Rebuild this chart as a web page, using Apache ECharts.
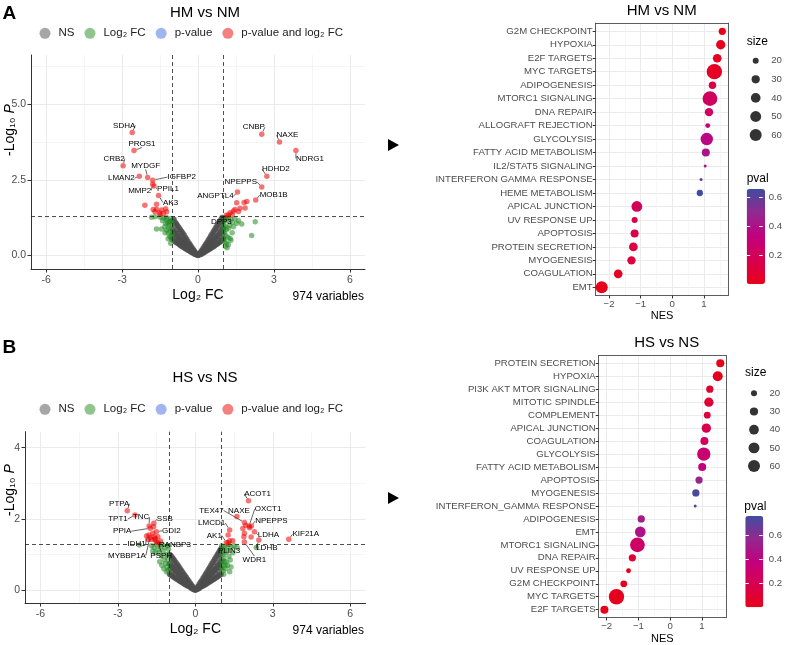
<!DOCTYPE html>
<html><head><meta charset="utf-8">
<script src="https://cdn.jsdelivr.net/npm/echarts@6/dist/echarts.min.js"></script>
<style>html,body{margin:0;padding:0;background:#fff}#c{width:785px;height:645px}</style>
</head><body><div id="c"></div>
<script>
// ---------------- DATA ----------------
// Volcano A: HM vs NM  ([log2FC, -log10 P])
const hmNS = [
[-1.0,0.55],[-1.0,0.85],[-1.0,1.15],[-0.95,0.5],[-0.95,0.8],[-0.95,1.2],[-0.9,0.45],[-0.9,0.75],[-0.9,1.1],
[-0.85,0.42],[-0.85,0.7],[-0.85,1.05],[-0.8,0.4],[-0.8,0.65],[-0.8,0.98],[-0.75,0.37],[-0.75,0.6],[-0.75,0.92],
[-0.7,0.33],[-0.7,0.55],[-0.7,0.86],[-0.65,0.3],[-0.65,0.5],[-0.65,0.8],[-0.6,0.28],[-0.6,0.46],[-0.6,0.74],
[-0.55,0.25],[-0.55,0.42],[-0.55,0.68],[-0.5,0.22],[-0.5,0.38],[-0.5,0.6],[-0.45,0.2],[-0.45,0.34],[-0.45,0.54],
[-0.4,0.17],[-0.4,0.3],[-0.4,0.47],[-0.35,0.15],[-0.35,0.25],[-0.35,0.4],[-0.3,0.12],[-0.3,0.21],[-0.3,0.34],
[-0.25,0.1],[-0.25,0.17],[-0.25,0.28],[-0.2,0.08],[-0.2,0.13],[-0.2,0.22],[-0.15,0.05],[-0.15,0.1],[-0.15,0.16],
[-0.1,0.03],[-0.1,0.06],[-0.1,0.1],[-0.05,0.01],[-0.05,0.03],[0,0.0],[0.02,0.01],
[0.05,0.02],[0.05,0.04],[0.1,0.03],[0.1,0.07],[0.1,0.11],[0.15,0.05],[0.15,0.1],[0.15,0.17],[0.2,0.08],[0.2,0.14],[0.2,0.24],
[0.25,0.1],[0.25,0.18],[0.25,0.3],[0.3,0.13],[0.3,0.22],[0.3,0.37],[0.35,0.15],[0.35,0.27],[0.35,0.43],
[0.4,0.18],[0.4,0.31],[0.4,0.5],[0.45,0.2],[0.45,0.35],[0.45,0.57],[0.5,0.23],[0.5,0.4],[0.5,0.64],
[0.55,0.26],[0.55,0.45],[0.55,0.71],[0.6,0.28],[0.6,0.49],[0.6,0.78],[0.65,0.31],[0.65,0.53],[0.65,0.85],
[0.7,0.34],[0.7,0.58],[0.7,0.92],[0.75,0.37],[0.75,0.62],[0.75,0.98],[0.8,0.4],[0.8,0.67],[0.8,1.05],
[0.85,0.43],[0.85,0.72],[0.85,1.12],[0.9,0.46],[0.9,0.78],[0.9,1.18],[0.95,0.5],[0.95,0.85],[0.95,1.25],[1.0,0.55],[1.0,0.9],[1.0,1.22],
[-0.98,0.68],[-0.92,1.0],[-0.88,0.58],[-0.82,0.86],[-0.78,0.5],[-0.72,0.76],[-0.68,0.44],[-0.62,0.64],[-0.58,0.36],
[-0.52,0.52],[-0.48,0.29],[-0.42,0.4],[-0.38,0.22],[-0.32,0.3],[-0.28,0.16],[-0.22,0.18],[-0.12,0.08],[-0.08,0.04],
[0.08,0.05],[0.12,0.09],[0.22,0.19],[0.28,0.17],[0.32,0.3],[0.38,0.24],[0.42,0.41],[0.48,0.31],[0.52,0.53],
[0.58,0.38],[0.62,0.65],[0.68,0.45],[0.72,0.77],[0.78,0.52],[0.82,0.88],[0.88,0.6],[0.92,1.02],[0.98,0.72],[0.97,1.1]
];
const hmFC = [
[-1.83,1.26],[-1.70,1.28],[-1.50,1.26],[-1.35,1.23],[-1.24,1.2],[-1.64,0.87],[-1.44,0.87],[-1.31,0.95],[-1.17,1.06],
[-1.11,1.12],[-1.24,0.84],[-1.17,0.73],[-1.11,0.62],[-1.04,0.53],[-1.08,0.40],[-1.13,1.0],[-1.05,1.15],[-1.2,1.1],
[-1.28,1.05],[-1.15,0.9],[-1.05,0.9],[-1.02,0.7],[-1.1,0.78],[-1.25,1.25],[-1.4,1.15],[-1.08,1.22],[-1.02,1.05],
[-1.3,0.75],[-1.18,0.55],[-1.06,0.6],
[1.05,1.25],[1.1,1.2],[1.15,1.15],[1.2,1.25],[1.3,1.2],[1.45,1.22],[1.02,1.0],[1.08,0.95],[1.12,0.85],[1.2,0.9],
[1.25,1.0],[1.35,1.1],[1.05,0.75],[1.1,0.65],[1.18,0.6],[1.02,0.55],[1.06,0.45],[1.12,0.4],[1.2,0.35],[1.08,0.3],
[1.15,0.25],[1.3,0.5],[1.35,0.75],[1.6,1.15],[1.27,0.56],[1.4,0.95],[1.53,1.06],[1.73,1.04],[2.12,0.66],[2.26,1.11],
[1.0,0.85],[1.03,1.15]
];
const hmBoth = [
[-2.10,1.66],[-1.64,1.69],[-1.77,1.52],[-1.64,1.53],[-1.44,1.50],[-1.28,1.54],[-1.52,1.41],[-1.37,1.39],[-1.24,1.44],
[-1.70,1.44],[-1.50,1.35],
[1.53,1.74],[1.93,1.78],[1.82,1.75],[1.46,1.52],[1.27,1.41],[1.40,1.47],[1.66,1.56],[1.86,1.57],[1.60,1.45],[1.35,1.36],[1.12,1.33]
];
const hmLabelGenes = ['SDHA','PROS1','CRB2','MYDGF','LMAN2','IGFBP2','MMP2','PPIL1','AK3','CNBP','NAXE','NDRG1','HDHD2','NPEPPS','ANGPTL4','MOB1B','DPP3'];
const hmLabelX = [-2.60,-2.53,-2.96,-1.99,-2.32,-1.79,-1.79,-1.74,-1.56,2.52,3.22,3.87,2.72,2.52,1.56,2.28,1.20];
const hmLabelY = [4.07,3.47,2.97,2.58,2.62,2.49,2.35,2.30,1.98,4.01,3.75,3.47,2.62,2.26,2.10,1.83,1.34];

// Volcano B: HS vs NS
const hsNS = [
[-1.0,0.45],[-1.0,0.75],[-1.0,1.0],[-0.95,0.42],[-0.95,0.7],[-0.95,0.98],[-0.9,0.4],[-0.9,0.66],[-0.9,0.93],
[-0.85,0.37],[-0.85,0.62],[-0.85,0.88],[-0.8,0.35],[-0.8,0.58],[-0.8,0.83],[-0.75,0.32],[-0.75,0.54],[-0.75,0.78],
[-0.7,0.3],[-0.7,0.5],[-0.7,0.73],[-0.65,0.28],[-0.65,0.46],[-0.65,0.68],[-0.6,0.25],[-0.6,0.42],[-0.6,0.62],
[-0.55,0.23],[-0.55,0.38],[-0.55,0.57],[-0.5,0.21],[-0.5,0.34],[-0.5,0.52],[-0.45,0.18],[-0.45,0.3],[-0.45,0.46],
[-0.4,0.16],[-0.4,0.27],[-0.4,0.41],[-0.35,0.14],[-0.35,0.23],[-0.35,0.36],[-0.3,0.12],[-0.3,0.2],[-0.3,0.31],
[-0.25,0.1],[-0.25,0.16],[-0.25,0.26],[-0.2,0.08],[-0.2,0.13],[-0.2,0.2],[-0.15,0.05],[-0.15,0.09],[-0.15,0.15],
[-0.1,0.03],[-0.1,0.06],[-0.1,0.1],[-0.05,0.01],[-0.05,0.03],[0,0.0],[0.02,0.01],
[0.05,0.02],[0.05,0.04],[0.1,0.03],[0.1,0.07],[0.1,0.11],[0.15,0.05],[0.15,0.1],[0.15,0.17],[0.2,0.08],[0.2,0.14],[0.2,0.23],
[0.25,0.1],[0.25,0.17],[0.25,0.28],[0.3,0.12],[0.3,0.21],[0.3,0.34],[0.35,0.14],[0.35,0.25],[0.35,0.4],
[0.4,0.16],[0.4,0.29],[0.4,0.46],[0.45,0.18],[0.45,0.33],[0.45,0.52],[0.5,0.21],[0.5,0.37],[0.5,0.58],
[0.55,0.23],[0.55,0.41],[0.55,0.64],[0.6,0.25],[0.6,0.45],[0.6,0.7],[0.65,0.28],[0.65,0.49],[0.65,0.76],
[0.7,0.3],[0.7,0.53],[0.7,0.82],[0.75,0.32],[0.75,0.57],[0.75,0.88],[0.8,0.35],[0.8,0.61],[0.8,0.94],
[0.85,0.37],[0.85,0.65],[0.85,1.0],[0.9,0.4],[0.9,0.7],[0.9,1.06],[0.95,0.42],[0.95,0.74],[0.95,1.12],[1.0,0.45],[1.0,0.8],[1.0,1.18],
[-0.98,0.6],[-0.92,0.86],[-0.88,0.52],[-0.82,0.75],[-0.78,0.45],[-0.72,0.66],[-0.68,0.38],[-0.62,0.56],[-0.58,0.32],
[-0.52,0.45],[-0.48,0.26],[-0.42,0.36],[-0.38,0.2],[-0.32,0.27],[-0.28,0.15],[-0.22,0.17],[-0.12,0.08],[-0.08,0.04],
[0.08,0.05],[0.12,0.09],[0.22,0.18],[0.28,0.15],[0.32,0.28],[0.38,0.22],[0.42,0.38],[0.48,0.28],[0.52,0.48],
[0.58,0.34],[0.62,0.58],[0.68,0.41],[0.72,0.68],[0.78,0.47],[0.82,0.78],[0.88,0.53],[0.92,0.9],[0.98,0.62],[0.97,1.0]
];
const hsFC = [
[-2.17,1.27],[-1.7,1.25],[-1.6,1.2],[-1.5,1.28],[-1.45,1.15],[-1.4,1.05],[-1.35,1.22],[-1.3,0.95],[-1.25,1.1],[-1.2,0.85],
[-1.18,1.2],[-1.15,0.75],[-1.12,1.0],[-1.1,0.65],[-1.08,0.9],[-1.05,0.55],[-1.04,1.15],[-1.02,0.75],[-1.12,0.52],[-1.22,0.6],
[-1.3,0.7],[-1.55,1.05],[-1.65,1.1],[-1.38,0.8],[-1.06,1.25],[-1.28,1.28],
[2.36,1.2],[1.02,1.25],[1.05,1.1],[1.08,1.0],[1.1,0.9],[1.12,0.8],[1.15,0.7],[1.18,0.6],[1.04,0.85],[1.06,0.7],[1.08,0.55],
[1.2,1.2],[1.25,1.1],[1.3,0.95],[1.35,0.85],[1.2,0.8],[1.25,0.7],[1.15,1.05],[1.4,1.2],[1.45,1.05],[1.3,1.28],[1.02,0.6],
[1.1,0.45],[1.33,0.52],[1.5,1.25],[1.62,1.2],[1.38,0.65],[1.12,1.22]
];
const hsBoth = [
[-1.65,1.6],[-1.8,1.55],[-1.6,1.5],[-1.45,1.5],[-1.7,1.42],[-1.83,1.42],[-1.35,1.38],[-1.52,1.35],[-1.62,1.78],[-1.55,1.45],
[1.84,1.73],[1.90,1.60],[1.88,1.50],[2.16,1.49],[1.45,1.39],[1.33,1.39],[1.27,1.55],[2.1,1.75],[1.95,1.82]
];
const hsLabelGenes = ['PTPA','TPT1','TNC','SSB','PPIA','GDI2','IDH1','RANBP3','MYBBP1A','PSPH','ACOT1','TEX47','NAXE','OXCT1','NPEPPS','LMCD1','AK1','LDHA','KIF21A','LDHB','PLIN3','WDR1'];
const hsLabelX = [-2.64,-2.34,-1.79,-1.61,-1.75,-1.51,-1.89,-1.57,-1.76,-1.44,2.06,1.90,1.61,2.08,2.17,1.33,1.20,2.29,3.62,2.46,1.27,1.90];
const hsLabelY = [2.23,2.11,1.80,1.88,1.74,1.64,1.52,1.42,1.48,1.33,2.51,1.90,2.07,1.80,1.80,1.69,1.34,1.64,1.43,1.41,1.33,1.35];

const volcanoLegend = ['NS','Log₂ FC','p-value','p-value and log₂ FC'];
const fcCutoff = 1;
const pCutoff = 0.05;
const variablesText = '974 variables';

// GSEA dot plots
const hmPathways = ['G2M CHECKPOINT','HYPOXIA','E2F TARGETS','MYC TARGETS','ADIPOGENESIS','MTORC1 SIGNALING','DNA REPAIR','ALLOGRAFT REJECTION','GLYCOLYSIS','FATTY ACID METABOLISM','IL2/STAT5 SIGNALING','INTERFERON GAMMA RESPONSE','HEME METABOLISM','APICAL JUNCTION','UV RESPONSE UP','APOPTOSIS','PROTEIN SECRETION','MYOGENESIS','COAGULATION','EMT'];
const hmNES  = [1.58,1.53,1.42,1.33,1.27,1.19,1.16,1.12,1.09,1.06,1.04,0.91,0.87,-1.12,-1.19,-1.19,-1.23,-1.29,-1.71,-2.23];
const hmSize = [25,37,33,99,26,91,31,17,65,29,15,15,21,48,20,29,33,31,33,60];
const hmPval = [0.00,0.01,0.03,0.03,0.12,0.22,0.23,0.30,0.36,0.40,0.42,0.55,0.655,0.20,0.15,0.15,0.13,0.12,0.03,0.00];

const hsPathways = ['PROTEIN SECRETION','HYPOXIA','PI3K AKT MTOR SIGNALING','MITOTIC SPINDLE','COMPLEMENT','APICAL JUNCTION','COAGULATION','GLYCOLYSIS','FATTY ACID METABOLISM','APOPTOSIS','MYOGENESIS','INTERFERON_GAMMA RESPONSE','ADIPOGENESIS','EMT','MTORC1 SIGNALING','DNA REPAIR','UV RESPONSE UP','G2M CHECKPOINT','MYC TARGETS','E2F TARGETS'];
const hsNES  = [1.58,1.50,1.25,1.22,1.17,1.14,1.08,1.06,1.01,0.91,0.81,0.79,-0.91,-0.94,-1.03,-1.19,-1.31,-1.46,-1.69,-2.07];
const hsSize = [29,42,25,37,23,37,29,74,29,25,25,15,25,48,91,25,17,23,99,29];
const hsPval = [0.00,0.02,0.08,0.10,0.13,0.18,0.25,0.32,0.37,0.55,0.74,0.757,0.50,0.47,0.28,0.10,0.03,0.02,0.01,0.00];

const sizeKey = [20,30,40,50,60];
const pvalTicks = [0.2,0.4,0.6];

// --------------- STYLE / LAYOUT ---------------
const FONT = "'Liberation Sans', Arial, Helvetica, sans-serif";
const sizeFn = v => 3 + 1.342 * Math.sqrt(Math.max(v - 15, 0));
const pvalColors = ['#E8001A','#D8004E','#C2007E','#93288F','#3F4DA0'];

const hmNudge = [[-8,-7],[8,-7],[-9,-7],[-2,-12],[-18,2],[29,-3],[-13,6],[14,3],[12,7],[-8,-7],[8,-7],[14,8],[9,-7],[-21,-5],[-22,4],[18,-5],[-7,7]];
const hsNudge = [[-8,-7],[-17,4],[-8,-9],[11,-4],[-28,3],[15,-1],[-10,8],[20,5],[-23,18],[3,13],[9,-7],[-33,-12],[2,-6],[19,-17],[20,-5],[-18,-7],[-12,-7],[14,3],[17,-5],[8,8],[1,8],[10,18]];

const chart = echarts.init(document.getElementById('c'), null, {renderer:'canvas'});

const axisDark = '#333333';
const gridMajor = {show:true, lineStyle:{color:'#EBEBEB', width:1.1}};
const gridMinor = {show:true, lineStyle:{color:'#EFEFEF', width:0.6}};
const borderLine = {show:true, onZero:false, lineStyle:{color:'#333', width:0.8}};

function volcX(grid){
  return [
    {type:'value', gridIndex:grid, min:-6.6, max:6.6, position:'bottom',
     axisLine:{show:true, onZero:false, lineStyle:{color:axisDark, width:1}},
     axisTick:{show:true, length:3.5, lineStyle:{color:axisDark}, customValues:[-6,-3,0,3,6]},
     axisLabel:{customValues:[-6,-3,0,3,6], color:'#4D4D4D', fontSize:10.5, fontFamily:FONT, margin:6},
     splitLine:gridMajor,
     name:'Log₂ FC', nameLocation:'middle', nameGap:19.5,
     nameTextStyle:{fontSize:14, color:'#000', fontFamily:FONT}},
    {type:'value', gridIndex:grid, min:-6.6, max:6.6, position:'top',
     axisLine:{show:false, onZero:false}, axisLabel:{show:false},
     axisTick:{show:false, customValues:[-4.5,-1.5,1.5,4.5]}, splitLine:gridMinor}
  ];
}
function volcY(grid, min, max, major, minor, fmt){
  return [
    {type:'value', gridIndex:grid, min:min, max:max, position:'left',
     axisLine:{show:true, onZero:false, lineStyle:{color:axisDark, width:1}},
     axisTick:{show:true, length:3.5, lineStyle:{color:axisDark}, customValues:major},
     axisLabel:{customValues:major, formatter:fmt, color:'#4D4D4D', fontSize:10.5, fontFamily:FONT, margin:5},
     splitLine:gridMajor},
    {type:'value', gridIndex:grid, min:min, max:max, position:'right',
     axisLine:{show:false, onZero:false}, axisLabel:{show:false},
     axisTick:{show:false, customValues:minor}, splitLine:gridMinor}
  ];
}
function dotX(grid, min, max){
  return [
    {type:'value', gridIndex:grid, min:min, max:max, position:'bottom',
     axisLine:borderLine,
     axisTick:{show:true, length:3, lineStyle:{color:axisDark}, customValues:[-2,-1,0,1]},
     axisLabel:{customValues:[-2,-1,0,1], formatter:v=> v<0 ? '\u2212'+Math.abs(v) : String(v), color:'#4D4D4D', fontSize:9.6, fontFamily:FONT, margin:4},
     splitLine:{show:true, lineStyle:{color:'#EBEBEB', width:1}},
     name:'NES', nameLocation:'middle', nameGap:15.5,
     nameTextStyle:{fontSize:11, color:'#000', fontFamily:FONT}},
    {type:'value', gridIndex:grid, min:min, max:max, position:'top',
     axisLine:borderLine, axisLabel:{show:false},
     axisTick:{show:false, customValues:[-1.5,-0.5,0.5,1.5]},
     splitLine:{show:true, lineStyle:{color:'#F2F2F2', width:0.6}}}
  ];
}
function dotY(grid, cats){
  const idx = cats.map((c,i)=>i);
  return {type:'value', gridIndex:grid, inverse:true, min:-0.6, max:cats.length-1+0.6, position:'left',
    axisLine:borderLine,
    axisTick:{show:true, length:3, lineStyle:{color:axisDark}, customValues:idx},
    axisLabel:{customValues:idx, formatter:v=>cats[Math.round(v)], color:'#4D4D4D', fontSize:9.6, fontFamily:FONT, margin:3},
    splitLine:{show:true, lineStyle:{color:'#EBEBEB', width:1}}};
}
function dotYRight(grid, cats){
  return {type:'value', gridIndex:grid, inverse:true, min:-0.6, max:cats.length-1+0.6, position:'right',
    axisLine:borderLine, axisTick:{show:false}, axisLabel:{show:false}, splitLine:{show:false}};
}
function keyY(grid){
  const idx = sizeKey.map((c,i)=>i);
  return {type:'value', gridIndex:grid, inverse:true, min:-0.5, max:sizeKey.length-0.5, position:'right',
    axisLine:{show:false, onZero:false}, axisTick:{show:false, customValues:idx},
    axisLabel:{customValues:idx, formatter:v=>String(sizeKey[Math.round(v)]), color:'#4D4D4D', fontSize:9.6, fontFamily:FONT, margin:10},
    splitLine:{show:false}};
}
function cbY(grid, max, right){
  return {type:'value', gridIndex:grid, min:0, max:max, position: right?'right':'left', z:10,
    axisLine:{show:false, onZero:false},
    axisTick:{show:true, inside:true, length:3.5, lineStyle:{color:'#fff', width:1}, customValues:pvalTicks},
    axisLabel:{show:right, customValues:pvalTicks, formatter:v=>v.toFixed(1), color:'#4D4D4D', fontSize:9.6, fontFamily:FONT, margin:6},
    splitLine:{show:false}};
}
const hiddenX = g => ({type:'value', gridIndex:g, min:-1, max:1, show:false});

function volcSeries(xi, yi, ns, fc, both, genes, xs, ys, nudge){
  const base = {type:'scatter', xAxisIndex:xi, yAxisIndex:yi, symbolSize:5.5, emphasis:{disabled:true}};
  return [
    Object.assign({}, base, {name:'NS', data:ns, itemStyle:{color:'#4D4D4D', opacity:0.8}, z:2,
      markLine:{silent:true, symbol:'none', label:{show:false},
        lineStyle:{color:'#222', type:[4,3], width:0.8},
        data:[{xAxis:-fcCutoff},{xAxis:fcCutoff},{yAxis:-Math.log10(pCutoff)}]}}),
    Object.assign({}, base, {name:'Log₂ FC', data:fc, itemStyle:{color:'#228B22', opacity:0.55}, z:3}),
    Object.assign({}, base, {name:'p-value', data:[], itemStyle:{color:'#4169E1', opacity:0.55}, z:3}),
    Object.assign({}, base, {name:'p-value and log₂ FC', data:both, itemStyle:{color:'#EE0000', opacity:0.55}, z:4}),
    Object.assign({}, base, {name:'p-value and log₂ FC', z:5,
      data: genes.map((g,i)=>({name:g, value:[xs[i], ys[i]]})),
      itemStyle:{color:'#EE0000', opacity:0.55},
      label:{show:true, position:'inside', formatter:'{b}', fontSize:8, color:'#000', opacity:1, fontFamily:FONT},
      labelLine:{show:true, lineStyle:{color:'#000', width:0.6, opacity:1}},
      labelLayout: p => { const n = nudge[p.dataIndex]; return {dx:n[0], dy:n[1]}; }})
  ];
}

function txt(x, y, text, size, align, vAlign, extra){
  return Object.assign({type:'text', x:x, y:y, silent:true, z:20,
    style:Object.assign({text:text, fill:'#000', fontSize:size, fontFamily:FONT,
      textAlign:align, align:align, textVerticalAlign:vAlign, verticalAlign:vAlign}, (extra&&extra.style)||{})},
    extra && extra.rotation ? {rotation:extra.rotation} : {});
}

const legendBase = {icon:'circle', itemWidth:11, itemHeight:11, itemGap:10, selectedMode:false, padding:0,
  itemStyle:{opacity:0.5},
  textStyle:{fontSize:11.5, color:'#222', fontFamily:FONT, padding:[0,0,0,3]}};

const option = {
  animation:false,
  backgroundColor:'#fff',
  grid:[
    {left:31, top:55, width:334, height:214},
    {left:25, top:431.7, width:340.7, height:171.3},
    {left:595.7, top:23.2, width:132.6, height:272.2},
    {left:598.7, top:355.5, width:127.3, height:263.5},
    {left:750.2, top:51.4, width:11, height:93},
    {left:748.5, top:384.2, width:11, height:91},
    {left:746.7, top:189, width:18.3, height:95},
    {left:745.3, top:516, width:18, height:91.3}
  ],
  xAxis:[].concat(volcX(0), volcX(1), dotX(2,-2.42,1.77), dotX(3,-2.25,1.76), [hiddenX(4), hiddenX(5), hiddenX(6), hiddenX(7)]),
  yAxis:[].concat(
    volcY(0, -0.45, 6.63, [0,2.5,5], [1.25,3.75,6.25], v=>v.toFixed(1)),
    volcY(1, -0.36, 4.45, [0,2,4], [1,3], v=>String(v)),
    [dotY(2, hmPathways), dotY(3, hsPathways), keyY(4), keyY(5),
     cbY(6, Math.max(...hmPval), true), cbY(6, Math.max(...hmPval), false),
     cbY(7, Math.max(...hsPval), true), cbY(7, Math.max(...hsPval), false),
     dotYRight(2, hmPathways), dotYRight(3, hsPathways)]
  ),
  legend:[
    Object.assign({}, legendBase, {data:volcanoLegend, left:39.5, top:27.3}),
    Object.assign({}, legendBase, {data:volcanoLegend, left:39.5, top:403.3})
  ],
  visualMap:[
    {type:'continuous', seriesIndex:10, dimension:2, min:Math.min(...hmPval), max:Math.max(...hmPval),
     inRange:{color:pvalColors}, left:746.7, top:189, itemWidth:18.3, itemHeight:95, padding:0,
     calculable:false, hoverLink:false, textStyle:{color:'transparent'}},
    {type:'continuous', seriesIndex:11, dimension:2, min:Math.min(...hsPval), max:Math.max(...hsPval),
     inRange:{color:pvalColors}, left:745.3, top:516, itemWidth:18, itemHeight:91.3, padding:0,
     calculable:false, hoverLink:false, textStyle:{color:'transparent'}}
  ],
  series:[].concat(
    volcSeries(0, 0, hmNS, hmFC, hmBoth, hmLabelGenes, hmLabelX, hmLabelY, hmNudge),
    volcSeries(2, 2, hsNS, hsFC, hsBoth, hsLabelGenes, hsLabelX, hsLabelY, hsNudge),
    [
      {type:'scatter', name:'hmDots', xAxisIndex:4, yAxisIndex:4, emphasis:{disabled:true},
       data: hmPathways.map((p,i)=>[hmNES[i], i, hmPval[i], hmSize[i]]),
       symbolSize: v=>sizeFn(v[3]), itemStyle:{opacity:1}, z:5},
      {type:'scatter', name:'hsDots', xAxisIndex:6, yAxisIndex:5, emphasis:{disabled:true},
       data: hsPathways.map((p,i)=>[hsNES[i], i, hsPval[i], hsSize[i]]),
       symbolSize: v=>sizeFn(v[3]), itemStyle:{opacity:1}, z:5},
      {type:'scatter', name:'sizeKeyA', xAxisIndex:8, yAxisIndex:6, emphasis:{disabled:true},
       data: sizeKey.map((s,i)=>[0, i, s]), symbolSize: v=>sizeFn(v[2]), itemStyle:{color:'#000'}},
      {type:'scatter', name:'sizeKeyB', xAxisIndex:9, yAxisIndex:7, emphasis:{disabled:true},
       data: sizeKey.map((s,i)=>[0, i, s]), symbolSize: v=>sizeFn(v[2]), itemStyle:{color:'#000'}}
    ]
  ),
  graphic:[
    txt(2.5, 13.7, 'A', 19, 'left', 'middle', {style:{fontWeight:'bold'}}),
    txt(2.5, 347.5, 'B', 19, 'left', 'middle', {style:{fontWeight:'bold'}}),
    txt(205, 12.7, 'HM vs NM', 15, 'center', 'middle'),
    txt(205, 377.7, 'HS vs NS', 15, 'center', 'middle'),
    txt(661.7, 10.8, 'HM vs NM', 15, 'center', 'middle'),
    txt(666.7, 342.5, 'HS vs NS', 15, 'center', 'middle'),
    txt(746.7, 42, 'size', 12, 'left', 'middle'),
    txt(745, 373, 'size', 12, 'left', 'middle'),
    txt(746.7, 178.7, 'pval', 12, 'left', 'middle'),
    txt(744.3, 506.7, 'pval', 12, 'left', 'middle'),
    txt(364, 297, variablesText, 12, 'right', 'middle'),
    txt(364, 630.7, variablesText, 12, 'right', 'middle'),
    txt(10, 130, '-Log₁₀ {i|P}', 14, 'center', 'middle', {rotation:Math.PI/2, style:{rich:{i:{fontStyle:'italic', fontSize:14, fontFamily:FONT}}}}),
    txt(10, 490, '-Log₁₀ {i|P}', 14, 'center', 'middle', {rotation:Math.PI/2, style:{rich:{i:{fontStyle:'italic', fontSize:14, fontFamily:FONT}}}}),
    {type:'polygon', silent:true, z:20, shape:{points:[[388,139],[399,145],[388,151]]}, style:{fill:'#000'}},
    {type:'polygon', silent:true, z:20, shape:{points:[[388,492],[399,498],[388,504]]}, style:{fill:'#000'}}
  ]
};
chart.setOption(option);
</script></body></html>
